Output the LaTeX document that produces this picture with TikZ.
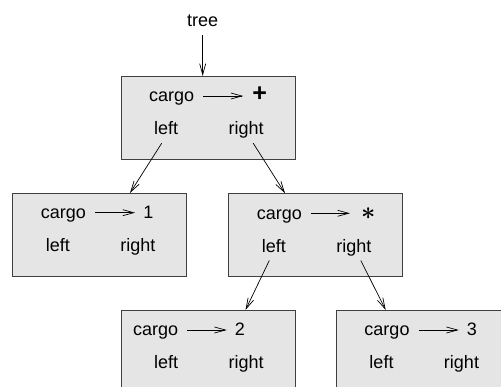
\documentclass[tikz,border=0pt]{standalone}
\usepackage{amsmath}
\usepackage{fontspec}
\setmainfont{Liberation Sans}
\usetikzlibrary{arrows.meta}
\tikzset{
  box/.style={draw=black!75, fill=black!10, line width=0.8pt, minimum width=174pt, minimum height=83pt, inner sep=0pt, anchor=north west},
  lbl/.style={inner sep=0pt, text height=12pt, text depth=0pt, anchor=base, font=\fontsize{18}{20}\selectfont},
  ptr/.style={line width=0.7pt, -{Straight Barb[length=11pt,width=6pt]}}
}
\newcommand{\cellbox}[7]{% name, X, Y, cargo offset, value x offset, value, end shift
  \node[box] (#1) at (#2,#3) {};
  \node[lbl] (#1-cargo) at (#2+#4,#3+26) {cargo};
  \node[lbl] (#1-val) at (#2+#5,#3+26) {#6};
  \node[lbl] (#1-left) at (#2+45.5,#3+59) {left};
  \node[lbl] (#1-right) at (#2+125.5,#3+59) {right};
  \draw[ptr] ([xshift=9pt]#1-cargo.east) -- ([xshift=#7]#1-val.west);
}
\begin{document}
\begin{tikzpicture}[x=1pt,y=-1pt]
\useasboundingbox (0,0) rectangle (501,387);
\clip (0,0) rectangle (501,387);
\cellbox{root}{120.7}{76}{51}{139}{\fontsize{25}{25}\selectfont\textbf{+}}{-9pt}
\cellbox{c1}{12.3}{192.7}{51}{136}{1}{-8pt}
\cellbox{c2}{228.3}{193.3}{51}{140}{\fontsize{31}{31}\selectfont$\boldsymbol{\ast}$}{-11pt}
\cellbox{c3}{120.7}{310}{35}{119.3}{2}{-8pt}
\cellbox{c4}{336}{310}{51}{136}{3}{-8pt}
\node[lbl] (tree) at (202.7,26.7) {tree};
\draw[ptr, shorten <=8pt] (tree.south) -- (tree.south |- root.north);
\coordinate (c1-in) at (130,193);
\coordinate (c2-in) at (285,193.3);
\coordinate (c3-in) at (245.5,310);
\coordinate (c4-in) at (385.7,310);
\draw[ptr] ([xshift=-4.5pt,yshift=-8pt]root-left.south) -- (c1-in);
\draw[ptr] ([xshift=7pt,yshift=-8pt]root-right.south) -- (c2-in);
\draw[ptr] ([xshift=-4.5pt,yshift=-8pt]c2-left.south) -- (c3-in);
\draw[ptr] ([xshift=7pt,yshift=-8pt]c2-right.south) -- (c4-in);
\end{tikzpicture}
\end{document}
